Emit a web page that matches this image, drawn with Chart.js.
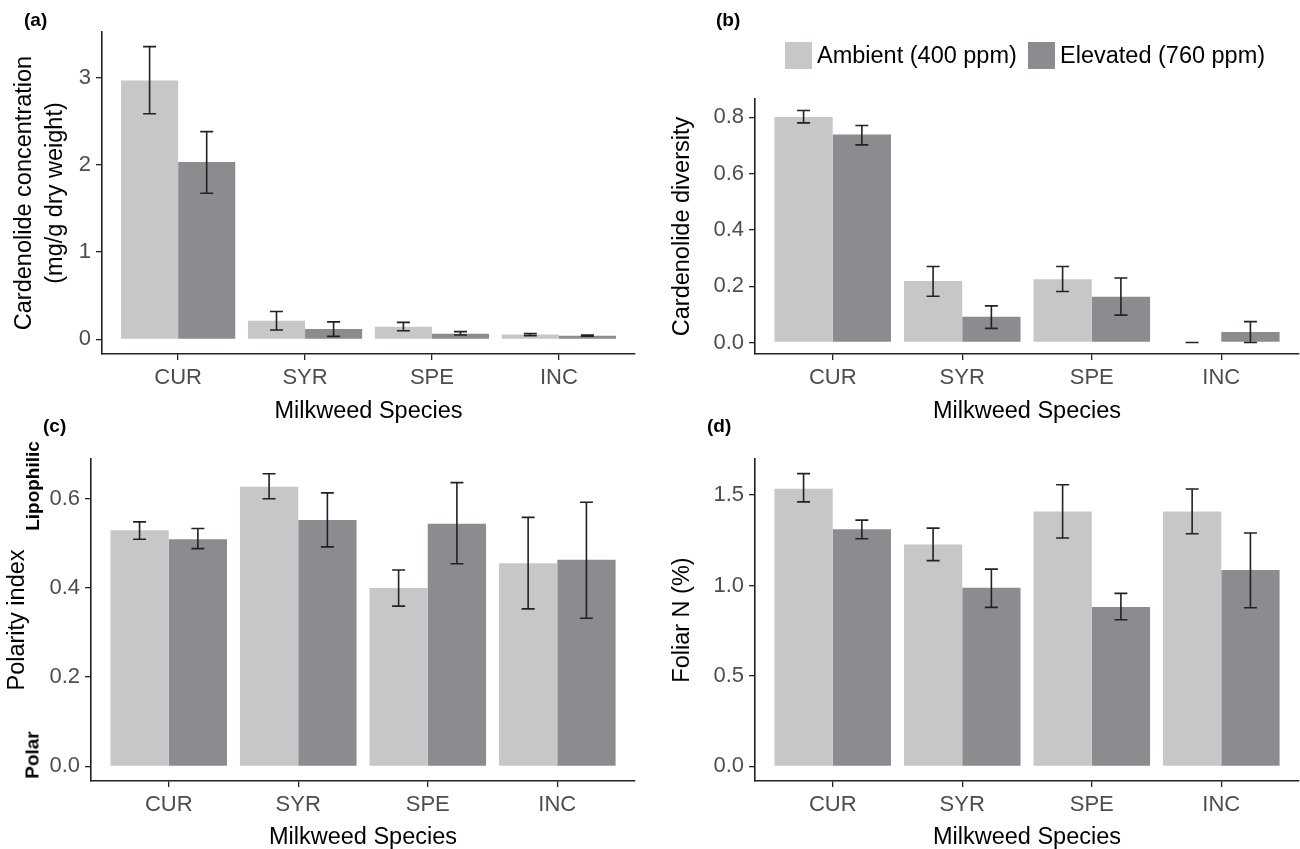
<!DOCTYPE html>
<html>
<head>
<meta charset="utf-8">
<script src="https://cdn.jsdelivr.net/npm/chart.js@4.4.1/dist/chart.umd.min.js"></script>
<style>
  body { margin: 0; background: #fff; font-family: "Liberation Sans", Arial, sans-serif; }
  #wrap { position: relative; width: 1300px; height: 849px; overflow: hidden; }
  canvas { position: absolute; }
  .tag { position: absolute; font-weight: bold; font-size: 19px; line-height: 1; color: #000; }
  .side { position: absolute; font-weight: bold; font-size: 19px; line-height: 1; white-space: nowrap;
          transform: translate(-50%, -50%) rotate(-90deg); }
  .key { position: absolute; top: 42px; width: 27px; height: 27px; }
  .keytxt { position: absolute; top: 42px; height: 27px; line-height: 27px; font-size: 23.5px; color: #000; white-space: nowrap; }
</style>
</head>
<body>
<div id="wrap">
  <canvas id="pa" width="650" height="432" style="left:0;top:0"></canvas>
  <canvas id="pb" width="650" height="432" style="left:650px;top:0"></canvas>
  <canvas id="pc" width="650" height="424" style="left:0;top:425px"></canvas>
  <canvas id="pd" width="650" height="424" style="left:650px;top:425px"></canvas>

  <div class="tag" style="left:24px;top:10px">(a)</div>
  <div class="tag" style="left:716px;top:10px">(b)</div>
  <div class="tag" style="left:43px;top:416px">(c)</div>
  <div class="tag" style="left:707px;top:416px">(d)</div>

  <div class="side" style="left:32px;top:486px">Lipophilic</div>
  <div class="side" style="left:32px;top:755px">Polar</div>

  <div class="key" style="left:785px;background:#c6c7c9"></div>
  <div class="keytxt" style="left:817px">Ambient (400 ppm)</div>
  <div class="key" style="left:1028px;background:#8b8c90"></div>
  <div class="keytxt" style="left:1060px">Elevated (760 ppm)</div>
</div>
<script>
// species on the x axis
const species = ['CUR', 'SYR', 'SPE', 'INC'];

// (a) cardenolide concentration, mg/g dry weight
const concAmb = [2.966, 0.213, 0.145, 0.054];
const concAmbLo = [2.585, 0.107, 0.099, 0.042];
const concAmbHi = [3.353, 0.319, 0.194, 0.066];
const concElev = [2.032, 0.118, 0.065, 0.042];
const concElevLo = [1.674, 0.034, 0.050, 0.035];
const concElevHi = [2.380, 0.200, 0.088, 0.050];
const concTicks = [0, 1, 2, 3];

// (b) cardenolide diversity
const divAmb = [0.801, 0.218, 0.225, 0.0];
const divAmbLo = [0.780, 0.164, 0.181, 0.0];
const divAmbHi = [0.824, 0.270, 0.270, 0.0];
const divElev = [0.739, 0.091, 0.162, 0.037];
const divElevLo = [0.702, 0.050, 0.097, 0.0];
const divElevHi = [0.771, 0.130, 0.229, 0.074];
const divTicks = [0, 0.2, 0.4, 0.6, 0.8];

// (c) polarity index
const polAmb = [0.529, 0.627, 0.400, 0.455];
const polAmbLo = [0.509, 0.600, 0.359, 0.353];
const polAmbHi = [0.548, 0.656, 0.440, 0.558];
const polElev = [0.509, 0.552, 0.544, 0.463];
const polElevLo = [0.488, 0.492, 0.454, 0.332];
const polElevHi = [0.533, 0.613, 0.636, 0.592];
const polTicks = [0, 0.2, 0.4, 0.6];

// (d) foliar N (%)
const nAmb = [1.535, 1.227, 1.409, 1.409];
const nAmbLo = [1.462, 1.137, 1.262, 1.286];
const nAmbHi = [1.618, 1.317, 1.557, 1.533];
const nElev = [1.310, 0.987, 0.881, 1.085];
const nElevLo = [1.258, 0.879, 0.810, 0.877];
const nElevHi = [1.361, 1.090, 0.956, 1.290];
const nTicks = [0, 0.5, 1, 1.5];

const AMB = '#c6c7c9';
const ELEV = '#8b8c90';
const INK = '#222';
const TICKTXT = '#4d4d4d';

Chart.defaults.font.family = '"Liberation Sans", Arial, sans-serif';
Chart.defaults.animation = false;

// draws the mean +/- se whiskers on each bar
const errorBars = {
    id: 'errorBars',
    afterDatasetsDraw(chart) {
        const ctx = chart.ctx;
        const y = chart.scales.y;
        ctx.save();
        ctx.strokeStyle = INK;
        ctx.lineWidth = 1.6;
        chart.data.datasets.forEach((ds, di) => {
            chart.getDatasetMeta(di).data.forEach((bar, i) => {
                const top = y.getPixelForValue(ds.hi[i]);
                const bot = y.getPixelForValue(ds.lo[i]);
                const cap = 6.5;
                ctx.beginPath();
                ctx.moveTo(bar.x, top); ctx.lineTo(bar.x, bot);
                ctx.moveTo(bar.x - cap, top); ctx.lineTo(bar.x + cap, top);
                ctx.moveTo(bar.x - cap, bot); ctx.lineTo(bar.x + cap, bot);
                ctx.stroke();
            });
        });
        ctx.restore();
    }
};

function toPoints(vals) {
    return vals.map((v, i) => ({ x: i + 1, y: v }));
}

function makePanel(id, p) {
    new Chart(document.getElementById(id), {
        type: 'bar',
        data: {
            datasets: [
                { label: 'Ambient (400 ppm)', data: toPoints(p.amb), lo: p.ambLo, hi: p.ambHi,
                  backgroundColor: AMB, borderWidth: 0, categoryPercentage: 0.9, barPercentage: 1.0 },
                { label: 'Elevated (760 ppm)', data: toPoints(p.elev), lo: p.elevLo, hi: p.elevHi,
                  backgroundColor: ELEV, borderWidth: 0, categoryPercentage: 0.9, barPercentage: 1.0 }
            ]
        },
        options: {
            responsive: false,
            devicePixelRatio: 1,
            layout: { padding: p.pad },
            plugins: { legend: { display: false }, tooltip: { enabled: false } },
            scales: {
                x: {
                    type: 'linear', min: 0.4, max: 4.6, offset: false,
                    afterBuildTicks: s => { s.ticks = species.map((_, i) => ({ value: i + 1 })); },
                    afterFit: s => { s.height = p.xh; },
                    ticks: { callback: v => species[v - 1], color: TICKTXT, font: { size: 22 },
                             padding: 5, maxRotation: 0, autoSkip: false },
                    grid: { offset: false, drawOnChartArea: false, drawTicks: true, tickLength: 6,
                            color: INK, lineWidth: 1.3 },
                    border: { display: true, color: INK, width: 1.6 },
                    title: { display: true, text: 'Milkweed Species', color: '#000',
                             font: { size: 23.5 }, padding: { top: 0, bottom: p.xtb } }
                },
                y: {
                    min: p.min, max: p.max,
                    afterBuildTicks: s => { s.ticks = p.ticks.map(v => ({ value: v })); },
                    afterFit: s => { s.width = p.yw; },
                    ticks: { callback: v => v.toFixed(p.dec), color: TICKTXT, font: { size: 22 }, padding: 5 },
                    grid: { drawOnChartArea: false, drawTicks: true, tickLength: 6, color: INK, lineWidth: 1.3 },
                    border: { display: true, color: INK, width: 1.6 },
                    title: { display: true, text: p.title, color: '#000',
                             font: { size: 23.5, lineHeight: 1.32 }, padding: { top: p.ytp, bottom: 0 } }
                }
            }
        },
        plugins: [errorBars]
    });
}

makePanel('pa', {
    amb: concAmb, ambLo: concAmbLo, ambHi: concAmbHi,
    elev: concElev, elevLo: concElevLo, elevHi: concElevHi,
    ticks: concTicks, dec: 0, min: -0.168, max: 3.521,
    title: ['Cardenolide concentration', '(mg/g dry weight)'],
    pad: { top: 32, right: 15, bottom: 0, left: 0 }, yw: 102, xh: 78, xtb: 6, ytp: 9
});

makePanel('pb', {
    amb: divAmb, ambLo: divAmbLo, ambHi: divAmbHi,
    elev: divElev, elevLo: divElevLo, elevHi: divElevHi,
    ticks: divTicks, dec: 1, min: -0.041, max: 0.865,
    title: 'Cardenolide diversity',
    pad: { top: 99, right: 1, bottom: 0, left: 0 }, yw: 105, xh: 78, xtb: 6, ytp: 17
});

makePanel('pc', {
    amb: polAmb, ambLo: polAmbLo, ambHi: polAmbHi,
    elev: polElev, elevLo: polElevLo, elevHi: polElevHi,
    ticks: polTicks, dec: 1, min: -0.033, max: 0.689,
    title: 'Polarity index',
    pad: { top: 34, right: 15, bottom: 0, left: 0 }, yw: 91, xh: 68, xtb: -3, ytp: 2
});

makePanel('pd', {
    amb: nAmb, ambLo: nAmbLo, ambHi: nAmbHi,
    elev: nElev, elevLo: nElevLo, elevHi: nElevHi,
    ticks: nTicks, dec: 1, min: -0.081, max: 1.699,
    title: 'Foliar N (%)',
    pad: { top: 34, right: 1, bottom: 0, left: 0 }, yw: 105, xh: 68, xtb: -3, ytp: 17
});
</script>
</body>
</html>
